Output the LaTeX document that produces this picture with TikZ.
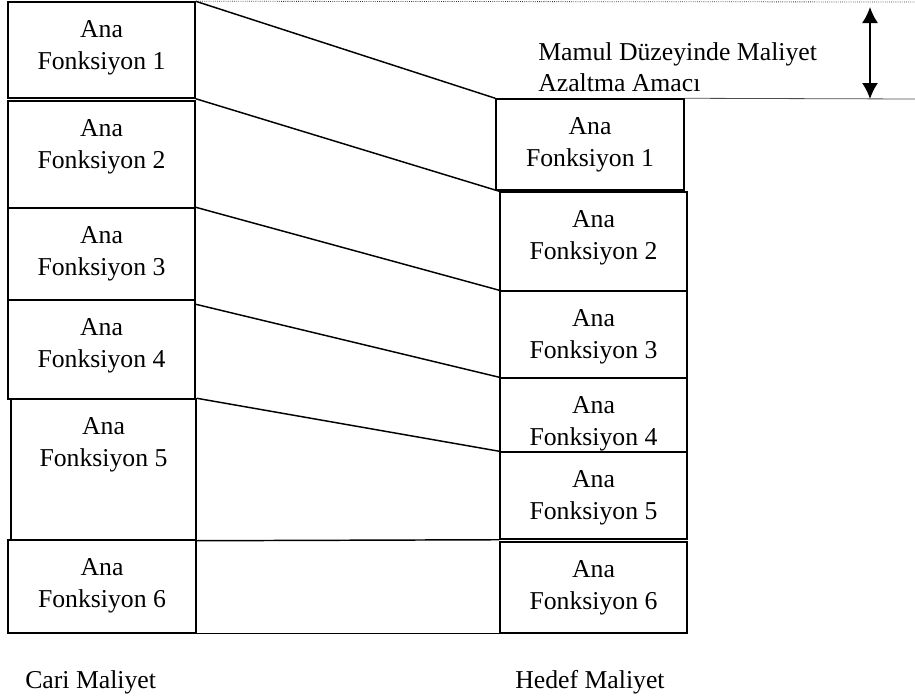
\documentclass[tikz,border=0pt]{standalone}
\usepackage{fontspec}
\setmainfont{Liberation Serif}
\usetikzlibrary{arrows.meta,fit,calc}

% one function box: name, x1, y1, x2, y2, number
\newcommand\funcbox[6]{%
  \node[fbox, fit={(#2,#3) (#4,#5)}] (#1) {};
  \node[ftext] (#1t) at ($(#1.north)+(0,19)$) {Ana\\Fonksiyon #6};
}

\begin{document}
\begin{tikzpicture}[x=0.75pt,y=-0.75pt,
  fbox/.style={draw, line width=1.1pt, inner sep=0pt},
  ftext/.style={anchor=north, inner sep=0pt, align=center,
    font=\fontsize{19.3}{23.8}\selectfont},
  link/.style={line width=1.1pt},
  lbl/.style={inner sep=0pt, font=\fontsize{19.3}{23.2}\selectfont},
  >={Latex[length=12pt,width=12pt]}]
\useasboundingbox (0,0) rectangle (915,700);

% current cost breakdown
\funcbox{L1}{8}{2}{195}{98}{1}
\funcbox{L2}{8}{101}{195}{208}{2}
\funcbox{L3}{8}{208}{195}{300}{3}
\funcbox{L4}{8}{300}{195}{399}{4}
\funcbox{L5}{11}{399}{196}{540}{5}
\funcbox{L6}{8}{540}{196}{633}{6}

% target cost breakdown
\funcbox{R1}{496}{99}{684}{190}{1}
\funcbox{R2}{500}{192}{687}{291}{2}
\funcbox{R3}{500}{291}{687}{378}{3}
\funcbox{R4}{500}{378}{687}{452}{4}
\funcbox{R5}{500}{452}{687}{539}{5}
\funcbox{R6}{500}{542}{687}{633}{6}

% connectors between the two columns
\draw[link] (L1.north east) -- (R1.north west);
\draw[link] (L1.south east) -- (R2.north west);
\draw[link] (L3.north east) -- (R3.north west);
\draw[link] ([yshift=-3.75pt]L4.north east) -- (R4.north west);
\draw[link] (L5.north east) -- (R5.north west);
\draw[link] (L5.south east) -- (R5.south west);
\draw[link] (L6.south east) -- (R6.south west);

% reduction target marker
\coordinate (dotR) at (915,2);
\coordinate (baseR) at (915,99);
\coordinate (arT) at (870,7);
\coordinate (arB) at (870,99);
\draw[densely dotted, line width=0.6pt, black!80] (L1.north east) -- (dotR);
\draw[line width=0.6pt, black!70] (R1.north east) -- (baseR);
\draw[line width=1.2pt, <->] (arT) -- (arB);

\node[lbl, anchor=north west, align=left] (goal) at (538,42)
  {Mamul Düzeyinde Maliyet\\Azaltma Amacı};

% column captions
\node[lbl, anchor=base west] (cari) at (25,688) {Cari Maliyet};
\node[lbl, anchor=base west] (hedef) at (515,688) {Hedef Maliyet};
\end{tikzpicture}
\end{document}
